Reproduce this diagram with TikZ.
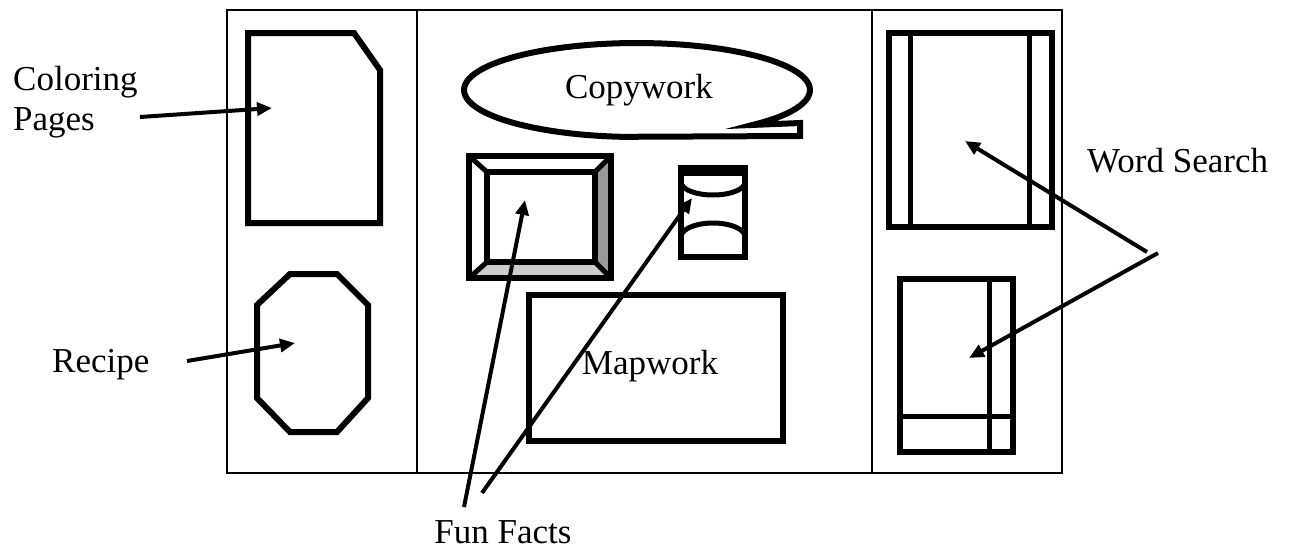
\documentclass[tikz,border=0pt]{standalone}
\usepackage{fontspec}
\setmainfont{Liberation Serif}
\usetikzlibrary{arrows.meta}

\begin{document}
\begin{tikzpicture}[x=1pt, y=-1pt,
	every node/.style={font=\fontsize{35}{40}\selectfont, inner sep=0pt},
	panel/.style={line width=2pt},
	outline/.style={line width=6pt},
	rule/.style={line width=5pt},
	pointer/.style={line width=4pt, -{Triangle[length=15pt, width=13pt]}}]
	\useasboundingbox (0,0) rectangle (1289,555);

	\draw[panel]	(227,10) rectangle (1062,473);
	\draw[panel]	(417,10) -- (417,473);
	\draw[panel]	(872,10) -- (872,473);

	\draw[outline]	(248,33) -- (354,33) -- (380,70) -- (380,223) -- (248,223) -- cycle;
	\draw[outline]	(290,274) -- (337,274) -- (368,305) -- (368,398) -- (337,432)
					-- (290,432) -- (257,398) -- (257,305) -- cycle;

	\draw[outline]	plot[domain=48:-265, samples=90] ({637+173*cos(\x)},{90+47*sin(\x)})
					-- (800,136) -- (800,123) -- cycle;

	\fill[black!40]	(611,156) -- (611,278) -- (595,262) -- (595,172) -- cycle;
	\fill[black!20]	(469,278) -- (611,278) -- (595,262) -- (487,262) -- cycle;
	\draw[rule]		(469,156) -- (487,172)
					(611,156) -- (595,172)
					(469,278) -- (487,262)
					(611,278) -- (595,262);
	\draw[outline]	(469,156) rectangle (611,278);
	\draw[outline]	(487,172) rectangle (595,262);

	\draw[outline]	(681,170) rectangle (745,257);
	\fill			(678,165) rectangle (748,176);
	\draw[rule]		plot[domain=180:0, samples=40] ({713+32*cos(\x)},{182+13*sin(\x)});
	\draw[rule]		plot[domain=180:360, samples=40] ({713+32*cos(\x)},{237+14*sin(\x)});

	\draw[outline]	(529,295) rectangle (783,441);

	\draw[outline]	(889,33) rectangle (1052,227);
	\draw[rule]		(910,33) -- (910,227)
					(1029,33) -- (1029,227);
	\draw[outline]	(900,279) rectangle (1013,452);
	\draw[rule]		(989,279) -- (989,452)
					(900,416) -- (1013,416);

	\node[anchor=west, align=left]	(coloring)	at (13,102)		{Coloring\\Pages};
	\node[anchor=base west]			(recipe)	at (52,372)		{Recipe};
	\node							(copywork)	at (639,90)		{Copywork};
	\node							(mapwork)	at (650,366)	{Mapwork};
	\node[anchor=base]				(funfacts)	at (503,543)	{Fun Facts};
	\node[anchor=base west]			(wordsearch) at (1087,172)	{Word Search};

	\coordinate (coloringtail)	at (140,117);
	\coordinate (coloringtip)	at (272,108);
	\coordinate (recipetail)	at (187,361);
	\coordinate (recipetip)		at (295,343);
	\coordinate (frametail)		at (464,507);
	\coordinate (frametip)		at (525,200);
	\coordinate (scrolltail)	at (482,493);
	\coordinate (scrolltip)		at (692,198);
	\coordinate (uppertail)		at (1147,252);
	\coordinate (uppertip)		at (965,141);
	\coordinate (lowertail)		at (1158,253);
	\coordinate (lowertip)		at (969,358);

	\draw[pointer]	(coloringtail)	-- (coloringtip);
	\draw[pointer]	(recipetail)	-- (recipetip);
	\draw[pointer]	(frametail)		-- (frametip);
	\draw[pointer]	(scrolltail)	-- (scrolltip);
	\draw[pointer]	(uppertail)		-- (uppertip);
	\draw[pointer]	(lowertail)		-- (lowertip);
\end{tikzpicture}
\end{document}
